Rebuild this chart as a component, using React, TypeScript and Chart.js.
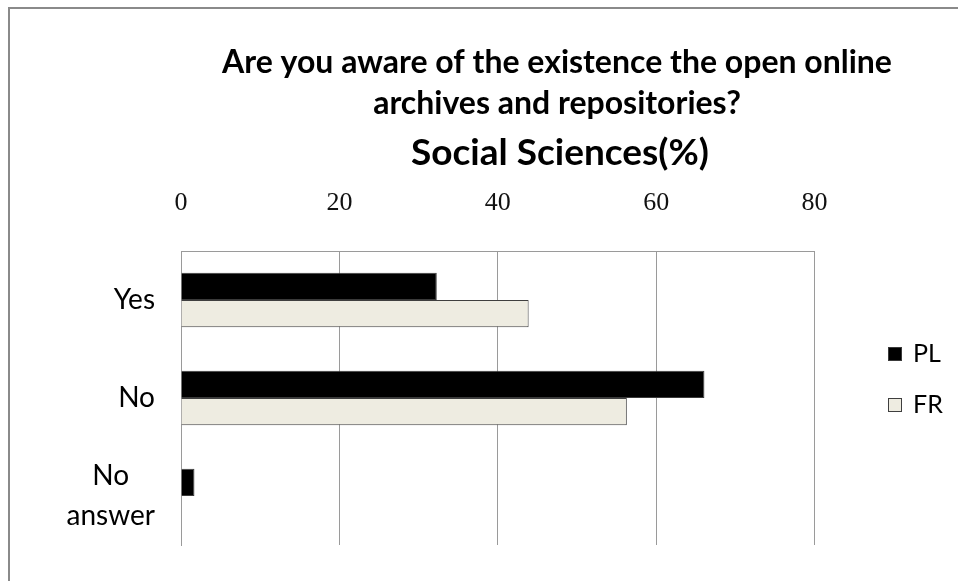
import React, { useEffect, useRef } from 'react';
import { Chart, registerables } from 'chart.js';

Chart.register(...registerables);

const categories = ['Yes', 'No', 'No answer'];
const seriesNames = ['PL', 'FR'];
const plValues = [32.3, 66.1, 1.7];
const frValues = [43.9, 56.3, 0];
const xTicks = [0, 20, 40, 60, 80];
const titleLines = ['Are you aware of the existence the open online', 'archives and repositories?'];
const subtitleText = 'Social Sciences(%)';
const seriesFill = ['#000000', '#eeece1'];
const seriesBorder = ['#3a3a3a', '#3f3f3f'];

const titlePlugin = {
  id: 'customTitle',
  afterDraw(chart: any) {
    const ctx = chart.ctx;
    ctx.save();
    ctx.fillStyle = '#000';
    ctx.textAlign = 'center';
    ctx.textBaseline = 'alphabetic';
    ctx.font = 'bold 32px Lato';
    ctx.fillText(titleLines[0], 557, 73);
    ctx.fillText(titleLines[1], 557, 114);
    ctx.font = 'bold 37px Lato';
    ctx.fillText(subtitleText, 560, 165);
    ctx.restore();
  },
};

const categoryLabelPlugin = {
  id: 'categoryLabels',
  afterDraw(chart: any) {
    const ctx = chart.ctx;
    const yScale = chart.scales.y;
    const lineH = 40;
    ctx.save();
    ctx.fillStyle = '#000';
    ctx.font = '28px Lato';
    ctx.textAlign = 'center';
    ctx.textBaseline = 'middle';
    categories.forEach((cat, i) => {
      const lines = cat.split(' ');
      const w = Math.max(...lines.map((l) => ctx.measureText(l).width));
      const right = chart.chartArea.left - 26;
      const cx = right - w / 2;
      const y0 = yScale.getPixelForValue(i) - ((lines.length - 1) * lineH) / 2;
      lines.forEach((l, j) => ctx.fillText(l, cx, y0 + j * lineH));
    });
    ctx.restore();
  },
};

const legendPlugin = {
  id: 'customLegend',
  afterDraw(chart: any) {
    const ctx = chart.ctx;
    ctx.save();
    ctx.font = '25px Lato';
    ctx.textAlign = 'left';
    ctx.textBaseline = 'middle';
    chart.data.datasets.forEach((ds: any, i: number) => {
      const cy = 354 + i * 51;
      ctx.fillStyle = ds.backgroundColor;
      ctx.fillRect(888, cy - 7, 14, 14);
      ctx.strokeStyle = ds.borderColor;
      ctx.lineWidth = 1;
      ctx.strokeRect(888.5, cy - 6.5, 13, 13);
      ctx.fillStyle = '#000';
      ctx.fillText(ds.label, 913, cy);
    });
    ctx.restore();
  },
};

export default function App() {
  const ref = useRef<HTMLCanvasElement>(null);

  useEffect(() => {
    if (!ref.current) return;
    const chart = new Chart(ref.current, {
      type: 'bar',
      data: {
        labels: categories,
        datasets: [
          {
            label: seriesNames[0],
            data: plValues,
            backgroundColor: seriesFill[0],
            borderColor: seriesBorder[0],
            borderWidth: 1,
            categoryPercentage: 0.557,
            barPercentage: 1,
          },
          {
            label: seriesNames[1],
            data: frValues,
            backgroundColor: seriesFill[1],
            borderColor: seriesBorder[1],
            borderWidth: 1,
            categoryPercentage: 0.557,
            barPercentage: 1,
          },
        ],
      },
      options: {
        indexAxis: 'y',
        responsive: false,
        animation: false,
        layout: { padding: { left: 8, right: 143.5, top: 188.5, bottom: 36 } },
        plugins: {
          legend: { display: false },
          title: { display: false },
          tooltip: { enabled: false },
        },
        scales: {
          x: {
            type: 'linear',
            position: 'top',
            min: 0,
            max: 80,
            afterBuildTicks: (s: any) => {
              s.ticks = xTicks.map((v) => ({ value: v }));
            },
            afterFit: (s: any) => {
              s.height = 62.5;
            },
            ticks: {
              font: { family: 'Liberation Serif', size: 26 },
              color: '#111',
              padding: 32,
            },
            grid: { color: '#9a9a9a', lineWidth: 1, drawTicks: false },
            border: { display: true, color: '#9a9a9a', width: 1 },
          },
          y: {
            type: 'category',
            afterFit: (s: any) => {
              s.width = 173;
            },
            ticks: { display: false },
            grid: { display: false, drawTicks: false },
            border: { display: true, color: '#9a9a9a', width: 1 },
          },
        },
      },
      plugins: [titlePlugin, categoryLabelPlugin, legendPlugin],
    } as any);
    return () => chart.destroy();
  }, []);

  return (
    <div
      style={{
        position: 'fixed',
        left: 0,
        top: 0,
        width: 958,
        height: 581,
        overflow: 'hidden',
        background: '#fff',
      }}
    >
      <div
        style={{
          position: 'absolute',
          left: 8,
          top: 7,
          width: 1100,
          height: 700,
          border: '2px solid #8a8a8a',
          boxSizing: 'border-box',
        }}
      />
      <canvas
        ref={ref}
        width={958}
        height={581}
        style={{ position: 'absolute', left: 0, top: 0, width: 958, height: 581 }}
      />
    </div>
  );
}
